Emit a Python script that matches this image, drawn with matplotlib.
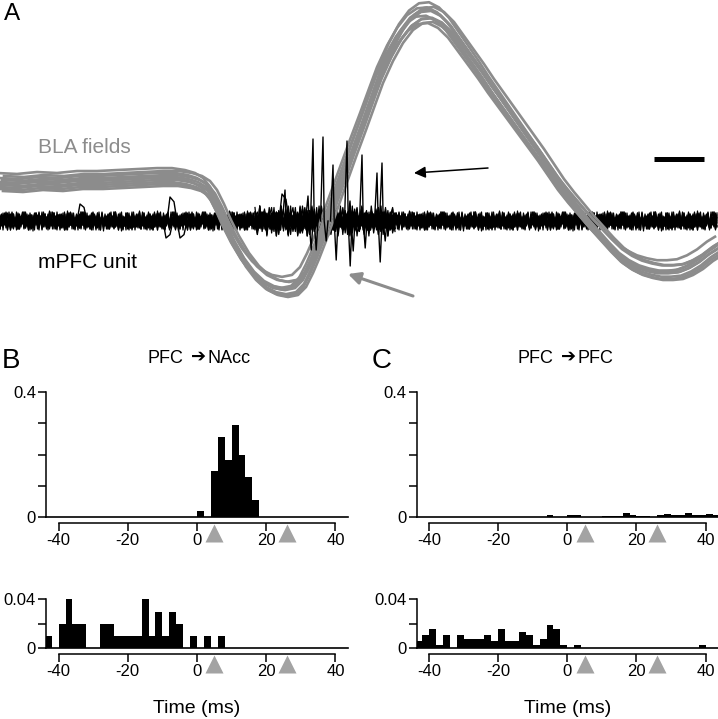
import numpy as np
import matplotlib
matplotlib.use('Agg')
import matplotlib.pyplot as plt
from matplotlib.transforms import offset_copy, blended_transform_factory

plt.rcParams['font.family'] = ['Liberation Sans', 'DejaVu Sans']
plt.rcParams['axes.unicode_minus'] = False

# ---------------- panel A data (ms / mV) ----------------
field_t = [0, 2, 4, 6, 8, 10, 12, 14, 16, 17.5, 18.8, 19.8, 20.6, 21.3, 22.0, 22.7,
           23.5, 24.5, 25.5, 26.5, 27.5, 28.5, 29.5, 30.3, 31.0, 31.6, 32.3, 33.3,
           34.3, 35.3, 36.3, 37.2, 38.0, 39.0, 40.0, 41.0, 42.0, 43.0, 44.0, 45.0,
           46.0, 47.0, 48.0, 49.0, 50.0, 51.0, 52.0, 53.0, 54.0, 55.0, 56.0, 57.0,
           58.0, 59.0, 60.0, 61.0, 62.0, 63.0, 64.0, 65.0, 66.0, 67.0, 68.0, 69.0,
           70.0, 71.0, 71.8]
field_v = [0.00, -0.01, 0.01, 0.00, 0.02, 0.02, 0.03, 0.04, 0.05, 0.05, 0.03, 0.00,
           -0.05, -0.14, -0.28, -0.44, -0.60, -0.77, -0.90, -0.99, -1.04, -1.06,
           -1.04, -0.96, -0.82, -0.68, -0.50, -0.22, 0.06, 0.34, 0.61, 0.86, 1.08,
           1.30, 1.48, 1.61, 1.68, 1.69, 1.64, 1.54, 1.40, 1.26, 1.12, 0.97, 0.83,
           0.69, 0.55, 0.41, 0.27, 0.12, -0.03, -0.16, -0.28, -0.40, -0.51, -0.62,
           -0.72, -0.79, -0.84, -0.87, -0.89, -0.89, -0.88, -0.84, -0.78, -0.70, -0.65]
# sweep to sweep variation of the BLA field
sweep_dv = [-0.09, -0.05, -0.03, -0.01, 0.0, 0.02, 0.04, 0.06, 0.09, -0.07]
sweep_dt = [0.3, -0.2, 0.1, -0.4, 0.0, 0.2, -0.1, 0.4, -0.3, 0.1]
sweep_gain = [1.0, 0.97, 1.03, 0.99, 1.02, 0.96, 1.04, 1.0, 0.98, 1.01]

# mPFC unit: background noise samples (normalised)
noise = [0.3, -0.5, 0.8, -0.2, 0.1, -0.9, 0.6, 0.2, -0.4, 0.7, -0.6, 0.0, 0.5, -0.8, 0.3,
         0.9, -0.3, -0.7, 0.4, 0.1, -0.2, 0.6, -1.0, 0.5, 0.2, -0.4, 0.8, -0.1, -0.6, 0.3,
         0.7, -0.5, 0.1, -0.3, 0.9, -0.8, 0.4, 0.0, -0.2, 0.6, -0.7, 0.2, 0.5, -0.9, 0.3,
         -0.1, 0.8, -0.4, 0.6, -0.6, 0.1, 0.4, -0.3, 0.7, -0.8, 0.2, 0.9, -0.5, -0.2, 0.3,
         0.5, -0.7, 0.0, 0.6, -0.4, 0.8, -0.9, 0.3, 0.1, -0.6, 0.7, -0.2, 0.4, -0.8, 0.2,
         0.5, -0.3, 0.9, -0.1, -0.5, 0.6, -0.7, 0.3, 0.1, -0.9, 0.8, -0.4, 0.2, 0.5, -0.6,
         0.0, 0.7, -0.3, 0.4, -0.8, 0.6, -0.1, 0.3, -0.5, 0.9, -0.2, 0.1, 0.7, -0.6, 0.4,
         -0.9, 0.2, 0.5, -0.4, 0.8, -0.7, 0.3, 0.0, -0.5, 0.6, -0.2, 0.9, -0.8, 0.1, 0.4]
noise_shift = [0, 23, 47, 71, 97, 11, 59, 83]
noise_sign = [1, -1, 1, -1, 1, -1, 1, -1]
# stronger activity during the response
burst = [0.6, -0.9, 1.0, -0.4, 0.8, -1.0, 0.3, 0.9, -0.7, 0.5, -0.8, 1.0, -0.3, 0.7, -0.9,
         0.4, -0.6, 0.9, -1.0, 0.2, 0.8, -0.5, 0.6, -0.9, 1.0, -0.7, 0.3, -0.4, 0.9, -0.8,
         0.5, -1.0, 0.7, -0.2, 0.8, -0.6, 1.0, -0.9, 0.4, -0.5, 0.6, -0.8, 0.2, 0.9, -0.7,
         0.5, -0.3, 0.7, -0.6, 0.4, -0.5, 0.3, 0.6, -0.4, 0.2, -0.3, 0.5, -0.2, 0.3, -0.1]
burst_shift = [0, 17, 38, 9, 51]
# spikes: time (ms), upward peak, downward trough (mV)
spike_t = [31.3, 32.3, 33.3, 34.7, 36.2, 37.7, 38.2, 30.8, 28.5, 35.0]
spike_up = [0.82, 0.84, 0.56, 0.80, 0.66, 0.48, 0.58, 0.25, 0.31, 0.20]
spike_dn = [-0.29, -0.20, -0.39, -0.45, -0.27, -0.41, -0.20, -0.29, -0.12, -0.30]
# small slow deflections in the baseline: time (ms), peak (mV)
bump_t = [8.2, 17.2, 16.8, 18.2, 28.4]
bump_v = [0.17, 0.24, -0.17, -0.17, 0.27]

unit_base = -0.39
noise_scale = 0.1
burst_scale = 0.15
scalebar_start, scalebar_ms, scalebar_y = 65.4, 5.0, 0.23

# ---------------- histograms (2 ms bins from -44 to 44) ----------------
bin_left = np.arange(-44, 44, 2)
nacc_top = [0] * 22 + [0.02, 0, 0.147, 0.256, 0.183, 0.293, 0.2, 0.128, 0.055] + [0] * 13
nacc_bot = [0.01, 0, 0.02, 0.04, 0.02, 0.02, 0, 0, 0.02, 0.02, 0.01, 0.01, 0.01, 0.01,
            0.04, 0.01, 0.03, 0.01, 0.03, 0.02, 0, 0.01, 0, 0.01, 0, 0.01] + [0] * 18
pfc_top = [0] * 19 + [0.005, 0, 0, 0.007, 0.005, 0, 0, 0, 0.003, 0.003, 0.003, 0.013,
                      0.007, 0.004, 0.004, 0, 0.005, 0.01, 0.005, 0.007, 0.013, 0.007,
                      0.005, 0.01, 0.005]
pfc_bot = [0.006, 0.011, 0.016, 0.003, 0.011, 0, 0.011, 0.008, 0.008, 0.008, 0.011, 0.006,
           0.016, 0.006, 0.006, 0.0135, 0.011, 0.003, 0.008, 0.019, 0.016, 0.003, 0, 0.003] \
          + [0] * 17 + [0.003, 0, 0]
stim_ms = [5, 26]
xticks = [-40, -20, 0, 20, 40]

GRAY = '#8c8c8c'
ARROW_GRAY = '#a3a3a3'
W, H = 718, 719

fig = plt.figure(figsize=(W / 100, H / 100), dpi=100)


def px_axes(left, top, width, height):
    return fig.add_axes([left / W, 1 - (top + height) / H, width / W, height / H])


# ---------------- panel A ----------------
axA = px_axes(0, 0, 718, 305)
axA.set_xlim(0, 71.8)
axA.set_ylim(-1.23, 1.82)
axA.axis('off')

t_ms = np.arange(0, 71.8, 0.15)
for s, sg in zip(noise_shift, noise_sign):
    sweep = sg * np.resize(np.roll(noise, s), len(t_ms)) * noise_scale
    axA.plot(t_ms, unit_base + sweep, color='k', lw=0.9, zorder=2)

t_burst = np.linspace(25.5, 39.5, len(burst))
for s in burst_shift:
    axA.plot(t_burst, unit_base + np.roll(burst, s) * burst_scale, color='k', lw=0.9, zorder=2)

for t, v in zip(bump_t, bump_v):
    axA.plot([t - 0.5, t - 0.2, t + 0.2, t + 0.5],
             [unit_base, unit_base + v, unit_base + v * 0.8, unit_base],
             color='k', lw=1.0, zorder=2)

for dv, dt, g in zip(sweep_dv, sweep_dt, sweep_gain):
    axA.plot(np.array(field_t) + dt, np.array(field_v) * g + dv, color=GRAY, lw=1.9, zorder=3)

for t, up, dn in zip(spike_t, spike_up, spike_dn):
    axA.plot([t - 0.25, t, t + 0.12, t + 0.32, t + 0.5],
             [unit_base, unit_base + up, unit_base, unit_base + dn, unit_base],
             color='k', lw=1.0, zorder=4)

axA.annotate('', xy=(41.4, 0.09), xytext=(48.8, 0.14),
             arrowprops=dict(arrowstyle='-|>', color='k', lw=1.1, mutation_scale=17,
                             shrinkA=0, shrinkB=0))
axA.annotate('', xy=(34.8, -0.92), xytext=(41.3, -1.14),
             arrowprops=dict(arrowstyle='-|>', color=GRAY, lw=2.2, mutation_scale=18,
                             shrinkA=0, shrinkB=0))
axA.plot([scalebar_start, scalebar_start + scalebar_ms], [scalebar_y, scalebar_y],
         color='k', lw=3.6, solid_capstyle='butt')

axA.text(3.8, 0.29, 'BLA fields', color=GRAY, fontsize=15, va='baseline')
axA.text(3.8, -0.86, 'mPFC unit', color='k', fontsize=15, va='baseline')
fig.text(4 / W, 1 - 20 / H, 'A', fontsize=17.5, va='baseline')


# ---------------- panels B and C ----------------
def hist_panel(ax, heights, ymax, yticks, ylabels, title=None, xlabel=False):
    ax.bar(bin_left, heights, width=2, align='edge', color='k', linewidth=0)
    ax.set_xlim(-43.5, 43.5)
    ax.set_ylim(0, ymax)
    ax.patch.set_visible(False)
    ax.spines['top'].set_visible(False)
    ax.spines['right'].set_visible(False)
    ax.spines['bottom'].set_position(('outward', 4))
    ax.spines['bottom'].set_bounds(-40, 40)
    ax.spines['left'].set_bounds(0, ymax)
    for sp in ax.spines.values():
        sp.set_linewidth(1.1)
    ax.axhline(0, color='k', lw=1.2, clip_on=False)
    ax.set_xticks(xticks)
    ax.set_yticks(yticks, ylabels)
    ax.tick_params(direction='out', length=5.5, width=1.1, labelsize=12, pad=2)
    tr = offset_copy(ax.transData, fig=fig, x=0, y=-11.3, units='points')
    ax.plot(stim_ms, [0] * len(stim_ms), ls='none', marker='^', ms=13,
            color=ARROW_GRAY, mec='none', transform=tr, clip_on=False, zorder=5)
    bt = blended_transform_factory(ax.transData, ax.transAxes)
    h_px = ax.get_position().height * H
    if title:
        left, right = title
        ax.text(-4.0, 1 + 29 / h_px, left, transform=bt, ha='right', va='baseline', fontsize=13)
        ax.text(0.4, 1 + 30 / h_px, '\u2794', transform=bt, ha='center', va='baseline',
                fontsize=13, family=['DejaVu Sans'])
        ax.text(2.9, 1 + 29 / h_px, right, transform=bt, ha='left', va='baseline', fontsize=13)
    if xlabel:
        ax.text(0, -64.7 / h_px, 'Time (ms)', transform=bt, ha='center', va='baseline',
                fontsize=14)


big_ticks = [0, 0.1, 0.2, 0.3, 0.4]
big_labels = ['0', '', '', '', '0.4']
small_ticks = [0, 0.02, 0.04]
small_labels = ['0', '', '0.04']

axB1 = px_axes(46.5, 392, 301, 125)
hist_panel(axB1, nacc_top, 0.4, big_ticks, big_labels, title=('PFC', 'NAcc'))
axB2 = px_axes(46.5, 599.3, 301, 49)
hist_panel(axB2, nacc_bot, 0.04, small_ticks, small_labels, xlabel=True)
axC1 = px_axes(416.8, 392, 301, 125)
hist_panel(axC1, pfc_top, 0.4, big_ticks, big_labels, title=('PFC', 'PFC'))
axC2 = px_axes(416.8, 599.3, 301, 49)
hist_panel(axC2, pfc_bot, 0.04, small_ticks, small_labels, xlabel=True)

fig.text(2 / W, 1 - 368 / H, 'B', fontsize=20, va='baseline')
fig.text(372 / W, 1 - 368 / H, 'C', fontsize=20, va='baseline')

fig.savefig('out.png', dpi=100)
